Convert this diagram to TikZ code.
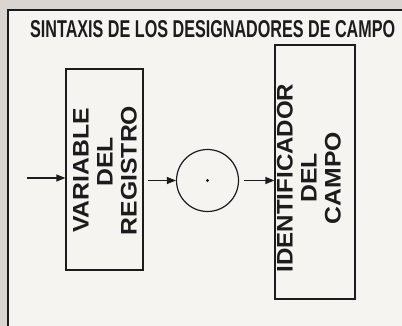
\documentclass[tikz,border=0pt]{standalone}
\usepackage{fontspec}
\setmainfont{Liberation Sans}
\usetikzlibrary{arrows.meta}
\definecolor{paper}{HTML}{DAD5D0}
\definecolor{inner}{HTML}{F6F4F1}
\definecolor{ink}{HTML}{1C1C1C}
\tikzset{
  boxnode/.style={draw=ink, line width=1.2pt, rectangle, inner sep=0pt},
  rottext/.style={rotate=90, align=center, inner sep=0pt, text=ink,
    font=\bfseries\fontsize{22.5pt}{24pt}\selectfont},
  arr/.style={draw=ink, line width=1.2pt, -{Triangle[length=9pt,width=7pt]}},
}
\newcommand{\wide}[1]{\scalebox{1.1}[1]{#1}}
\begin{document}
\begin{tikzpicture}[x=1pt,y=-1pt]
\useasboundingbox (0,0) rectangle (402,326);
\fill[paper] (0,0) rectangle (402,326);
\fill[inner] (8,10) rectangle (402,326);
\draw[ink, line width=1.5pt] (8,326) -- (8,10) -- (402,10);
\node[anchor=base west, inner sep=0pt, text=ink] (title) at (30,37.5)
  {\resizebox{365pt}{17pt}{\bfseries SINTAXIS DE LOS DESIGNADORES DE CAMPO}};
\node[boxnode, minimum width=77pt, minimum height=201pt] (box1) at (104.5,169.5) {};
\node[rottext] (t1) at (105,170.5) {\wide{VARIABLE}\\\hspace*{17pt}\wide{DEL}\\\wide{REGISTRO}};
\node[boxnode, minimum width=80pt, minimum height=254pt] (box2) at (315,172) {};
\node[rottext] (t2) at (309,178) {\scalebox{1.07}[1]{IDENTIFICADOR}\\\wide{DEL}\\\wide{CAMPO}};
\node[draw=ink, line width=1.2pt, circle, minimum size=62pt, inner sep=0pt] (circ) at (207.5,180.5) {};
\fill[ink] (circ.center) circle (1.7pt);
\coordinate (in) at (27,178);
\draw[arr] (in) -- (in -| box1.west);
\draw[arr, shorten <=4pt] (box1.east |- circ.west) -- (circ.west);
\draw[arr, shorten <=5pt] (circ.east) -- (circ.east -| box2.west);
\end{tikzpicture}
\end{document}
